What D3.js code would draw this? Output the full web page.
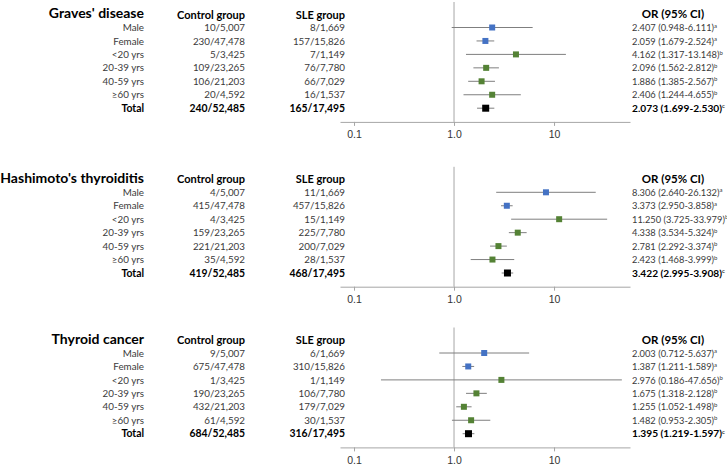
<!DOCTYPE html>
<html><head><meta charset="utf-8">
<script src="https://cdn.jsdelivr.net/npm/d3@7"></script>
<style>
body{margin:0;background:#fff;}
svg{display:block;font-family:"Lato","Open Sans",sans-serif;}
</style></head>
<body><svg id="c" width="727" height="466"></svg>
<script>
const diseases = ["Graves' disease", "Hashimoto's thyroiditis", "Thyroid cancer"];
const subgroups = ["Male", "Female", "<20 yrs", "20-39 yrs", "40-59 yrs", "≥60 yrs", "Total"];
const groupType = ["sex", "sex", "age", "age", "age", "age", "total"];
const controlCounts = [
  ["10/5,007","230/47,478","5/3,425","109/23,265","106/21,203","20/4,592","240/52,485"],
  ["4/5,007","415/47,478","4/3,425","159/23,265","221/21,203","35/4,592","419/52,485"],
  ["9/5,007","675/47,478","1/3,425","190/23,265","432/21,203","61/4,592","684/52,485"]
];
const sleCounts = [
  ["8/1,669","157/15,826","7/1,149","76/7,780","66/7,029","16/1,537","165/17,495"],
  ["11/1,669","457/15,826","15/1,149","225/7,780","200/7,029","28/1,537","468/17,495"],
  ["6/1,669","310/15,826","1/1,149","106/7,780","179/7,029","30/1,537","316/17,495"]
];
const orValues = [
  [2.407, 2.059, 4.162, 2.096, 1.886, 2.406, 2.073],
  [8.306, 3.373, 11.250, 4.338, 2.781, 2.423, 3.422],
  [2.003, 1.387, 2.976, 1.675, 1.255, 1.482, 1.395]
];
const ciLow = [
  [0.948, 1.679, 1.317, 1.562, 1.385, 1.244, 1.699],
  [2.640, 2.950, 3.725, 3.534, 2.292, 1.468, 2.995],
  [0.712, 1.211, 0.186, 1.318, 1.052, 0.953, 1.219]
];
const ciHigh = [
  [6.111, 2.524, 13.148, 2.812, 2.567, 4.655, 2.530],
  [26.132, 3.858, 33.979, 5.324, 3.374, 3.999, 3.908],
  [5.637, 1.589, 47.656, 2.128, 1.498, 2.305, 1.597]
];
const ciText = [
  ["2.407 (0.948-6.111)","2.059 (1.679-2.524)","4.162 (1.317-13.148)","2.096 (1.562-2.812)","1.886 (1.385-2.567)","2.406 (1.244-4.655)","2.073 (1.699-2.530)"],
  ["8.306 (2.640-26.132)","3.373 (2.950-3.858)","11.250 (3.725-33.979)","4.338 (3.534-5.324)","2.781 (2.292-3.374)","2.423 (1.468-3.999)","3.422 (2.995-3.908)"],
  ["2.003 (0.712-5.637)","1.387 (1.211-1.589)","2.976 (0.186-47.656)","1.675 (1.318-2.128)","1.255 (1.052-1.498)","1.482 (0.953-2.305)","1.395 (1.219-1.597)"]
];
const superscripts = ["a","a","b","b","b","b","c"];
const tickValues = [0.1, 1, 10];
const tickLabels = ["0.1", "1.0", "10"];

// layout
const panelMaleY = [27.5, 192.3, 353];
const rowH = 13.45;
const colors = {sex:"#4472c4", age:"#548235", total:"#000000"};

const svg = d3.select("#c");
const x = d3.scaleLog().domain([0.0724, 57.5]).range([340, 630]);

diseases.forEach((dis, p) => {
  const y0 = panelMaleY[p];
  const g = svg.append("g");
  const y = i => y0 + i * rowH;
  const axisY = y(6) + 13.7;

  // headers (baseline positioned)
  g.append("text").attr("x", 144).attr("y", y0 - 9.2).attr("text-anchor","end")
    .attr("font-size", 14).attr("font-weight","bold").attr("fill","#000").text(dis);
  g.append("text").attr("x", 245).attr("y", y0 - 9).attr("text-anchor","end")
    .attr("font-size", 11).attr("font-weight","bold").attr("fill","#000").text("Control group");
  g.append("text").attr("x", 345).attr("y", y0 - 9).attr("text-anchor","end")
    .attr("font-size", 11).attr("font-weight","bold").attr("fill","#000").text("SLE group");
  g.append("text").attr("x", 673).attr("y", y0 - 9.3).attr("text-anchor","middle")
    .attr("font-size", 11.5).attr("font-weight","bold").attr("fill","#000").text("OR (95% CI)");

  // reference line at 1
  g.append("line").attr("x1", x(1)).attr("x2", x(1)).attr("y1", y0 - 25.5).attr("y2", axisY)
    .attr("stroke","#a6a6a6").attr("stroke-width",1);

  // axis
  const ax = g.append("g").attr("transform", `translate(0,${axisY})`)
    .call(d3.axisBottom(x).tickValues(tickValues).tickFormat((d,i)=>tickLabels[i]).tickSizeOuter(0).tickSizeInner(4).tickPadding(5));
  ax.select(".domain").attr("stroke","#a6a6a6");
  ax.selectAll(".tick line").attr("stroke","#a6a6a6");
  ax.selectAll(".tick text").attr("font-size", 10.5).attr("fill","#333").attr("font-family","inherit");

  subgroups.forEach((sg, i) => {
    const isTotal = groupType[i] === "total";
    const fw = isTotal ? "bold" : "normal";
    const fc = isTotal ? "#000" : "#3a3a3a";
    const fs = isTotal ? 10.4 : 9.8;
    const fsOr = isTotal ? 10.2 : 9.3;
    const by = y(i) + 3.6;
    g.append("text").attr("x", 144).attr("y", by).attr("text-anchor","end")
      .attr("font-size", fs).attr("font-weight", fw).attr("fill", fc).text(sg);
    g.append("text").attr("x", 245).attr("y", by).attr("text-anchor","end")
      .attr("font-size", fs).attr("font-weight", fw).attr("fill", fc).text(controlCounts[p][i]);
    g.append("text").attr("x", 345).attr("y", by).attr("text-anchor","end")
      .attr("font-size", fs).attr("font-weight", fw).attr("fill", fc).text(sleCounts[p][i]);
    const t = g.append("text").attr("x", 632).attr("y", by)
      .attr("font-size", fsOr).attr("font-weight", fw).attr("fill", fc).text(ciText[p][i]);
    t.append("tspan").attr("dy", -3.5).attr("font-size", 6).attr("font-weight","normal").text(superscripts[i]);

    // CI line
    g.append("line").attr("x1", x(ciLow[p][i])).attr("x2", x(ciHigh[p][i])).attr("y1", y(i)).attr("y2", y(i))
      .attr("stroke","#7f7f7f").attr("stroke-width",1);
    const s = isTotal ? 7 : 6;
    g.append("rect").attr("x", x(orValues[p][i]) - s/2).attr("y", y(i) - s/2).attr("width", s).attr("height", s)
      .attr("fill", colors[groupType[i]]);
  });
});
</script></body></html>
